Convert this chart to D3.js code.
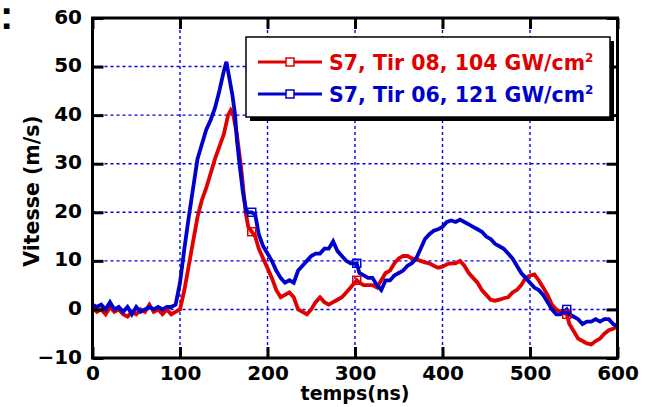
<!DOCTYPE html>
<html>
<head>
<meta charset="utf-8">
<script src="https://cdn.jsdelivr.net/npm/d3@7/dist/d3.min.js"></script>
<style>
  html, body { margin: 0; padding: 0; background: #fff; }
  svg { display: block; font-family: "DejaVu Sans", sans-serif; }
</style>
</head>
<body>
<svg id="chart" width="651" height="407"></svg>
<script>
// Free-surface velocity vs. time, two shots on sample S7
const xTicks = [0, 100, 200, 300, 400, 500, 600];
const yTicks = [-10, 0, 10, 20, 30, 40, 50, 60];
const seriesNames = ["S7, Tir 08, 104 GW/cm", "S7, Tir 06, 121 GW/cm"];
const seriesColors = ["#e00000", "#0000cc"];
const markerTimes = [182, 302, 542];

// Tir 08 (104 GW/cm2): [time ns, velocity m/s]
const tir08 = [
  [0,0.5],[5,-0.5],[10,0],[15,-1],[20,0.5],[25,-0.5],[30,0],[35,-1],[40,-1.5],[45,-0.5],
  [50,-1],[55,0],[60,-0.5],[65,1],[70,-0.5],[75,0],[80,-1],[85,0],[90,-1],[95,-0.5],
  [100,0],[105,4],[110,9],[115,14],[120,19],[125,22.5],[130,25],[135,28],[140,31],[145,33.5],
  [150,36],[155,40],[158,41],[161,40],[165,36],[170,29],[175,20],[178,17],[182,16],[186,15],
  [190,12.5],[195,10.5],[200,8.5],[205,6.5],[210,4],[215,2.5],[220,3],[225,3.5],[230,2.5],[235,0],
  [240,-0.5],[245,-1],[250,0],[255,1.5],[260,2.5],[265,1.5],[270,1],[275,1.5],[280,2],[285,2.5],
  [290,3.5],[295,4.5],[302,6],[305,5.5],[310,5],[315,5],[320,5],[325,4.5],[330,6],[335,7.5],
  [340,8],[345,9.5],[350,10.5],[355,11],[360,11],[365,10.5],[370,10.3],[375,10],[380,9.7],[385,9.5],
  [390,9],[395,8.6],[400,8.8],[405,9.3],[410,9.5],[415,9.5],[420,10],[425,9],[430,7.5],[435,6.5],
  [440,5.5],[445,4],[450,3],[455,2],[460,1.8],[465,2],[470,2.3],[475,2.5],[480,3.5],[485,4],
  [490,5],[495,6.5],[500,7],[505,7.2],[510,6],[515,4.5],[520,3],[525,1],[530,0],[535,-0.5],
  [542,-1],[545,-3],[550,-4.5],[555,-6],[560,-6.5],[565,-7],[570,-7.2],[575,-6.5],[580,-6],[585,-5],
  [590,-4.3],[595,-4],[600,-3.5]
];

// Tir 06 (121 GW/cm2): [time ns, velocity m/s]
const tir06 = [
  [0,1],[5,0.5],[10,1],[15,0],[20,1.5],[25,0],[30,0.5],[35,-0.5],[40,0.5],[45,-1],
  [50,0.5],[55,-0.5],[60,0],[65,0.5],[70,0],[75,0.5],[80,0],[85,0.5],[90,0.5],[95,1],
  [100,5.5],[105,12.5],[110,19],[115,25],[120,31],[125,34],[130,37],[135,39],[140,41.5],[145,45],
  [150,49],[153,51],[156,48],[160,44],[163,40],[165,35],[168,30],[172,24],[176,20],[182,20],
  [186,19.5],[190,15.5],[195,13],[200,11.5],[205,10],[210,8],[215,6.5],[220,5.5],[225,6],[230,5.5],
  [235,8],[240,9],[245,10],[250,11],[255,11.5],[260,11.5],[265,12.5],[270,12.5],[275,14],[280,12],
  [285,11],[290,10],[295,9.5],[302,9.5],[305,7.5],[310,7],[315,6.5],[320,6.5],[325,5],[330,4],
  [335,6],[340,6],[345,7],[350,7.5],[355,8],[360,9],[365,9.5],[370,10.5],[375,12.5],[380,14.5],
  [385,15.5],[390,16.2],[395,16.5],[400,17],[405,18],[410,18.3],[415,18],[420,18.5],[425,18],[430,17.5],
  [435,17],[440,16.5],[445,16],[450,15],[455,14.5],[460,13.5],[465,13],[470,12.5],[475,11.5],[480,10.5],
  [485,9],[490,7.5],[495,6.5],[500,5.5],[505,4.5],[510,4],[515,3],[520,1.5],[525,0],[530,-1],
  [535,-1],[542,0],[545,-1],[550,-1.5],[555,-2],[560,-3],[565,-2.5],[570,-2.5],[575,-2],[580,-2.5],
  [585,-2],[590,-2],[595,-3],[600,-3.5]
];

const FONT = "'DejaVu Sans', sans-serif";
const svg = d3.select("#chart");
const pLeft = 92.5, pRight = 617.5, pTop = 18, pBottom = 358;

const x = d3.scaleLinear().domain([0, 600]).range([pLeft, pRight]);
const y = d3.scaleLinear().domain([-10, 60]).range([pBottom, pTop]);

// dotted grid
const grid = svg.append("g").attr("stroke", "#0000ee").attr("stroke-width", 1.4)
  .attr("stroke-dasharray", "3,3");
grid.selectAll("line.vx").data(xTicks.slice(1, -1)).join("line")
  .attr("x1", d => x(d)).attr("x2", d => x(d)).attr("y1", pTop).attr("y2", pBottom);
grid.selectAll("line.hy").data(yTicks.slice(1, -1)).join("line")
  .attr("y1", d => y(d)).attr("y2", d => y(d)).attr("x1", pLeft).attr("x2", pRight);

// data lines
const line = d3.line().x(d => x(d[0])).y(d => y(d[1]));
const allSeries = [tir08, tir06];
const plot = svg.append("g");
allSeries.forEach((s, i) => {
  plot.append("path").datum(s).attr("d", line).attr("fill", "none")
    .attr("stroke", seriesColors[i]).attr("stroke-width", 3.8)
    .attr("stroke-linejoin", "miter");
});
// open square markers
allSeries.forEach((s, i) => {
  const pts = markerTimes.map(t => s.find(d => d[0] === t)).filter(Boolean);
  plot.selectAll(null).data(pts).join("rect")
    .attr("x", d => x(d[0]) - 4).attr("y", d => y(d[1]) - 4)
    .attr("width", 8).attr("height", 8)
    .attr("fill", "none").attr("stroke", seriesColors[i]).attr("stroke-width", 1.5);
});

// axes with inward ticks on all four sides
const tickLen = 11;
const axG = svg.append("g");
const xAxisB = d3.axisBottom(x).tickValues(xTicks).tickSize(-tickLen).tickPadding(8);
const xAxisT = d3.axisTop(x).tickValues(xTicks).tickSize(-tickLen).tickFormat("");
const yAxisL = d3.axisLeft(y).tickValues(yTicks).tickSize(-tickLen).tickPadding(10.5);
const yAxisR = d3.axisRight(y).tickValues(yTicks).tickSize(-tickLen).tickFormat("");
[[xAxisB, `translate(0,${pBottom})`], [xAxisT, `translate(0,${pTop})`],
 [yAxisL, `translate(${pLeft},0)`], [yAxisR, `translate(${pRight},0)`]].forEach(([a, tr], k) => {
  const g = axG.append("g").attr("transform", tr).call(a);
  g.select(".domain").remove();
  g.selectAll(".tick line").attr("stroke", "#000").attr("stroke-width", 3);
  g.selectAll(".tick text").attr("fill", "#000").attr("font-size", 20)
    .attr("font-weight", "bold").attr("font-family", FONT);
  // left labels sit slightly above their ticks
  if (k === 2) g.selectAll(".tick text").attr("dy", "0.25em");
});
axG.append("rect").attr("x", pLeft).attr("y", pTop).attr("width", pRight - pLeft)
  .attr("height", pBottom - pTop).attr("fill", "none").attr("stroke", "#000").attr("stroke-width", 3);

// axis titles
svg.append("text").attr("x", (pLeft + pRight) / 2).attr("y", 400).attr("text-anchor", "middle")
  .attr("font-size", 19).attr("font-weight", "bold").attr("font-family", FONT).text("temps(ns)");
svg.append("text").attr("transform", `translate(39,${(pTop + pBottom) / 2 + 3}) rotate(-90)`)
  .attr("text-anchor", "middle").attr("font-size", 20.5).attr("font-weight", "bold")
  .attr("font-family", FONT).text("Vitesse (m/s)");

svg.append("text").attr("x", 0).attr("y", 29).attr("font-size", 40).attr("font-weight", "bold")
  .attr("font-family", "'Liberation Sans', Arial, sans-serif").text(":");

// legend with drop shadow
const lg = svg.append("g");
const lx = 246, ly = 37, lw = 364, lh = 80;
lg.append("rect").attr("x", lx + 4).attr("y", ly + 4).attr("width", lw).attr("height", lh).attr("fill", "#000");
lg.append("rect").attr("x", lx).attr("y", ly).attr("width", lw).attr("height", lh)
  .attr("fill", "#fff").attr("stroke", "#000").attr("stroke-width", 1.5);
seriesNames.forEach((name, i) => {
  const yy = 62 + i * 32;
  lg.append("line").attr("x1", 258).attr("x2", 322).attr("y1", yy).attr("y2", yy)
    .attr("stroke", seriesColors[i]).attr("stroke-width", 3);
  lg.append("rect").attr("x", 286).attr("y", yy - 4).attr("width", 8).attr("height", 8)
    .attr("fill", "#fff").attr("stroke", seriesColors[i]).attr("stroke-width", 1.5);
  const t = lg.append("text").attr("x", 329).attr("y", yy + 7.5).attr("font-size", 20.5)
    .attr("font-weight", "bold").attr("font-family", FONT).attr("fill", seriesColors[i]);
  t.append("tspan").text(name);
  t.append("tspan").attr("font-size", 12).attr("dy", -8).text("2");
});
</script>
</body>
</html>
